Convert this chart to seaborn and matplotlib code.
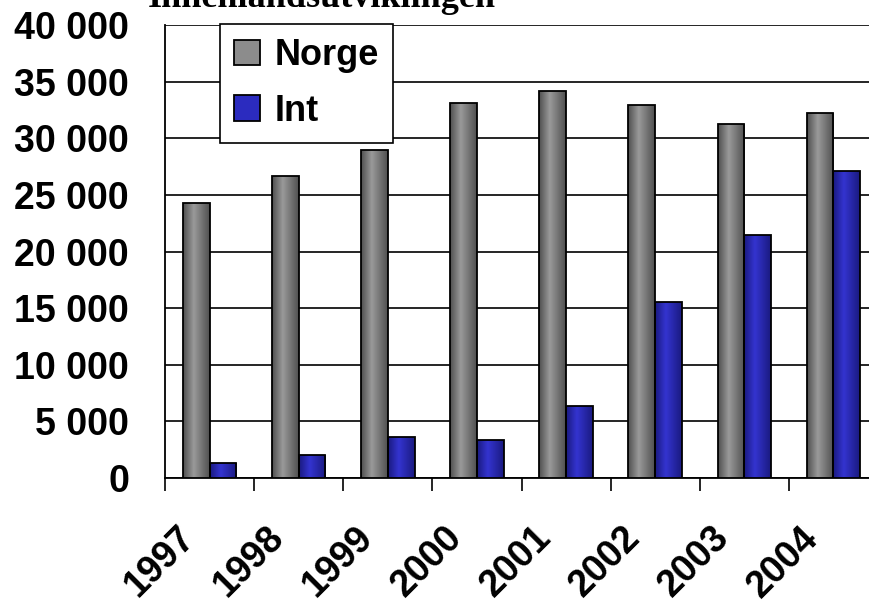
import matplotlib
matplotlib.use("Agg")
import matplotlib.pyplot as plt
import matplotlib.transforms as mtransforms
from matplotlib.colors import LinearSegmentedColormap
from matplotlib.ticker import FuncFormatter, FixedLocator
import numpy as np
import pandas as pd
import seaborn as sns

TITLE = "Innenlandsutviklingen"
YEARS = ["1997", "1998", "1999", "2000", "2001", "2002", "2003", "2004"]
NORGE = [24300, 26700, 29000, 33100, 34200, 32900, 31300, 32200]
INT = [1300, 2000, 3600, 3400, 6400, 15500, 21500, 27100]
SERIES = ["Norge", "Int"]
COLORS = {"Norge": "#8C8C8C", "Int": "#2B2BBF"}
# cylinder-like shading per series: edge, highlight
SHADES = {"Norge": ("#505050", "#9A9A9A"), "Int": ("#1A1A80", "#3434D0")}

df = pd.DataFrame({
    "year": YEARS * 2,
    "series": [SERIES[0]] * len(YEARS) + [SERIES[1]] * len(YEARS),
    "value": NORGE + INT,
})

sns.set_theme(style="white")
plt.rcParams["font.family"] = ["Liberation Sans", "DejaVu Sans"]
plt.rcParams.update({
    "text.color": "black",
    "xtick.color": "black",
    "ytick.color": "black",
    "axes.labelcolor": "black",
})

fig = plt.figure(figsize=(8.7, 6.06), dpi=100)
ax = fig.add_axes([0.1897, 0.2112, 0.8195, 0.7475])

sns.barplot(
    data=df, x="year", y="value", hue="series", hue_order=SERIES,
    palette=COLORS, width=0.6, saturation=1, edgecolor="black",
    linewidth=1.3, ax=ax, zorder=3,
)

handles, labels = ax.get_legend_handles_labels()
leg = ax.legend(
    handles, labels, loc="upper left", bbox_to_anchor=(0.2529, 0.9604),
    bbox_transform=fig.transFigure, frameon=True, fancybox=False,
    edgecolor="black", framealpha=1, prop={"weight": "bold", "size": 26},
    handlelength=0.7, handleheight=0.7, handletextpad=0.4, borderpad=0.4,
    labelspacing=0.56, borderaxespad=0,
)
leg.get_frame().set_linewidth(1.2)

# shading on the bars
ramp = np.linspace(0, 1, 64).reshape(1, -1)
for container, name in zip(ax.containers, SERIES):
    dark, light = SHADES[name]
    cmap = LinearSegmentedColormap.from_list(name, [(0, dark), (0.4, light), (1, dark)])
    for bar in container:
        x0, y0 = bar.get_x(), bar.get_y()
        w, h = bar.get_width(), bar.get_height()
        img = ax.imshow(ramp, cmap=cmap, aspect="auto", extent=[x0, x0 + w, y0, y0 + h],
                        zorder=2.9, interpolation="bilinear")
        img.set_clip_path(bar)
        bar.set_facecolor("none")

# y axis
ax.set_ylim(0, 40000)
ax.set_yticks(range(0, 40001, 5000))
ax.yaxis.set_major_formatter(FuncFormatter(lambda v, p: f"{int(v):,}".replace(",", " ")))
ax.yaxis.grid(True, color="black", linewidth=1.2)
ax.set_axisbelow(True)
ax.tick_params(axis="y", which="major", direction="out", length=9, width=1.2,
               color="black", pad=17, labelsize=27)
for lab in ax.get_yticklabels():
    lab.set_fontweight("bold")

# x axis: ticks between categories, labels at centres
ax.set_xlim(-0.5, len(YEARS) - 0.5)
ax.xaxis.set_minor_locator(FixedLocator([i - 0.5 for i in range(len(YEARS) + 1)]))
ax.tick_params(axis="x", which="minor", direction="out", length=9, width=1.2,
               color="black", bottom=True)
ax.tick_params(axis="x", which="major", length=0, pad=30)
ax.set_xticks(range(len(YEARS)))
ax.set_xticklabels(YEARS, rotation=45, ha="right", va="top", rotation_mode="anchor",
                   fontsize=27, fontweight="bold")
shift = mtransforms.ScaledTranslation(-33 / 100, 0, fig.dpi_scale_trans)
for lab in ax.get_xticklabels():
    lab.set_transform(lab.get_transform() + shift)

ax.set_xlabel("")
ax.set_ylabel("")

for side in ["top", "right"]:
    ax.spines[side].set_visible(False)
for side in ["left", "bottom"]:
    ax.spines[side].set_color("black")
    ax.spines[side].set_linewidth(1.3)

fig.text(148 / 870, 1 - 7 / 606, TITLE, fontfamily="Liberation Serif",
         fontweight="bold", fontsize=26, va="baseline", ha="left")

fig.savefig("out.png", dpi=100)
